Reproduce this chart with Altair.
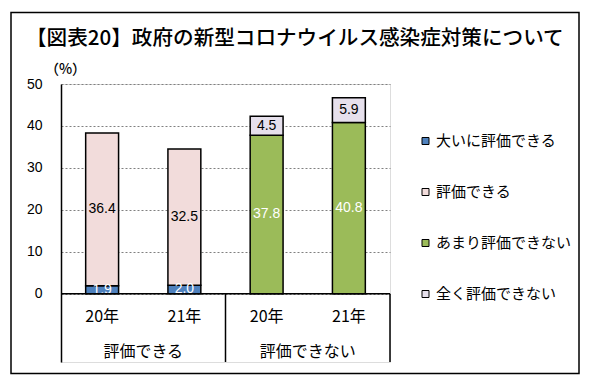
import altair as alt
import pandas as pd

title_text = "【図表20】政府の新型コロナウイルス感染症対策について"
unit_text = "（%）"
years = ["20年", "21年", "20年", "21年"]
groups = ["評価できる", "評価できない"]
group_of_bar = [0, 0, 1, 1]
series = ["大いに評価できる", "評価できる", "あまり評価できない", "全く評価できない"]
colors = ["#4f81bd", "#f2dcdb", "#9bbb59", "#e6e0ec"]
label_colors = ["white", "black", "white", "black"]
values = {
    "大いに評価できる": [1.9, 2.0, None, None],
    "評価できる": [36.4, 32.5, None, None],
    "あまり評価できない": [None, None, 37.8, 40.8],
    "全く評価できない": [None, None, 4.5, 5.9],
}
y_ticks = [0, 10, 20, 30, 40, 50]

YMIN = -16.3
YMAX = 50
JP = "Noto Sans CJK JP"
NUM = "Liberation Sans"

rows = []
for si, s in enumerate(series):
    for i, v in enumerate(values[s]):
        if v is None:
            continue
        rows.append({"pos": i + 0.5, "x0": i + 0.3, "x1": i + 0.7, "series": s,
                     "order": si, "value": v, "label": f"{v:.1f}",
                     "tcolor": label_colors[si]})
df = pd.DataFrame(rows)

cat_df = pd.DataFrame({"pos": [i + 0.5 for i in range(len(years))], "label": years, "y": [-5.6] * len(years)})
grp_df = pd.DataFrame({"pos": [1.0, 3.0], "label": groups, "y": [-13.9, -13.9]})
vrule_df = pd.DataFrame({"x": [2.0, 4.0], "y0": [YMIN, YMIN], "y1": [0.0, 0.0]})
hrule_df = pd.DataFrame({"x0": [0.0], "x1": [4.0], "y": [0.0]})
one = pd.DataFrame({"t": [title_text], "u": [unit_text]})

xscale = alt.Scale(domain=[0, 4], nice=False, zero=False)
yscale = alt.Scale(domain=[YMIN, YMAX], nice=False, zero=False)

base = alt.Chart(df).transform_stack(
    stack="value", groupby=["pos"], as_=["y0", "y1"], sort=[alt.SortField("order")]
).transform_calculate(ymid="(datum.y0 + datum.y1) / 2")

bars = base.mark_bar(stroke="black", strokeWidth=1.5).encode(
    x=alt.X("x0:Q", scale=xscale, axis=None),
    x2="x1:Q",
    y=alt.Y("y0:Q", scale=yscale, axis=alt.Axis(
        values=y_ticks, grid=True, ticks=False, domain=True, domainColor="black",
        domainWidth=1.5, labelFont=NUM, labelFontSize=14, labelColor="black",
        labelPadding=19, gridDash=[2, 2], gridColor="#808080", gridWidth=1, title=None)),
    y2="y1:Q",
    fill=alt.Fill("series:N", scale=alt.Scale(domain=series, range=colors),
                  sort=series,
                  legend=alt.Legend(title=None, orient="none", legendX=357, legendY=49.5,
                                    symbolType="square", symbolSize=49,
                                    symbolStrokeColor="black", symbolStrokeWidth=1,
                                    labelFont=JP, labelFontSize=15, labelColor="black",
                                    labelOffset=3, rowPadding=35, padding=0,
                                    labelLimit=300)),
)

labels = base.mark_text(font=NUM, fontSize=14, baseline="middle").encode(
    x=alt.X("pos:Q", scale=xscale),
    y=alt.Y("ymid:Q", scale=yscale),
    text="label:N",
    color=alt.Color("tcolor:N", scale=None),
)

cats = alt.Chart(cat_df).mark_text(font=JP, fontSize=16, baseline="middle", color="black").encode(
    x=alt.X("pos:Q", scale=xscale), y=alt.Y("y:Q", scale=yscale), text="label:N")
grps = alt.Chart(grp_df).mark_text(font=JP, fontSize=16, baseline="middle", color="black").encode(
    x=alt.X("pos:Q", scale=xscale), y=alt.Y("y:Q", scale=yscale), text="label:N")

vrules = alt.Chart(vrule_df).mark_rule(color="black", strokeWidth=1.5).encode(
    x=alt.X("x:Q", scale=xscale), y=alt.Y("y0:Q", scale=yscale), y2="y1:Q")
hrule = alt.Chart(hrule_df).mark_rule(color="black", strokeWidth=1.5).encode(
    x=alt.X("x0:Q", scale=xscale), x2="x1:Q", y=alt.Y("y:Q", scale=yscale))

frame = alt.Chart(one).mark_rect(fill="white", fillOpacity=0, stroke="black", strokeWidth=1.5).encode(
    x=alt.value(-50), x2=alt.value(518), y=alt.value(-71.5), y2=alt.value(289.5))
title = alt.Chart(one).mark_text(font=JP, fontSize=20.6, fontWeight=500, align="left",
                                 baseline="middle", color="black").encode(
    x=alt.value(-35), y=alt.value(-45.5), text="t:N")
unit = alt.Chart(one).mark_text(font=JP, fontSize=14, fontWeight=500, align="center",
                                baseline="middle", color="black").encode(
    x=alt.value(4.5), y=alt.value(-14.5), text="u:N")

chart = alt.layer(frame, bars, labels, vrules, hrule, cats, grps, title, unit).properties(
    width=329, height=278,
    autosize=alt.AutoSizeParams(type="none"),
    padding={"left": 53, "top": 76, "right": 190, "bottom": 20},
).configure_view(stroke=None).configure(background="white")

chart.save("out.html", embed_options={"renderer": "svg", "actions": False})
